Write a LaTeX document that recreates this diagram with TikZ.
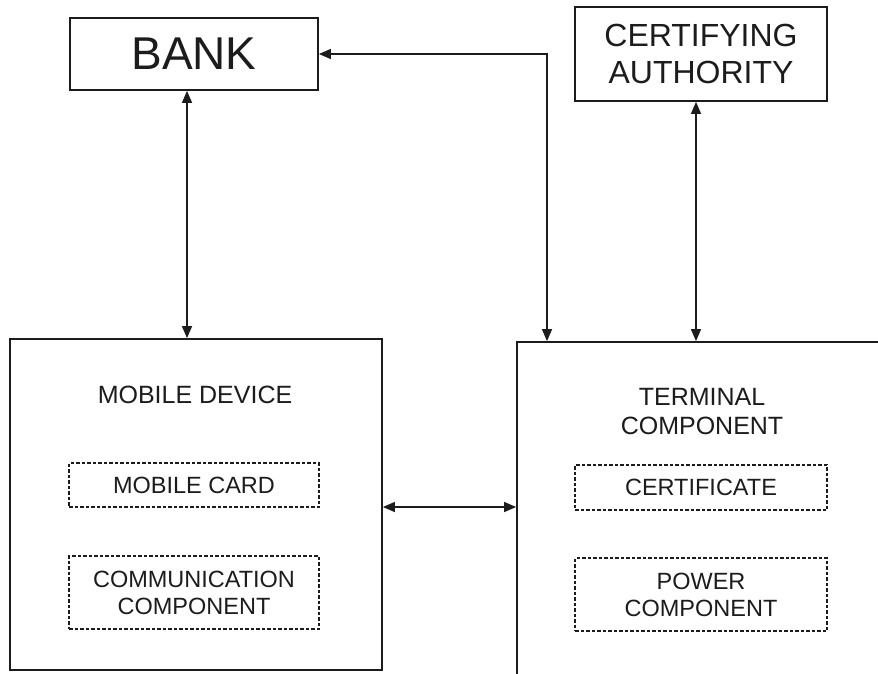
\documentclass[tikz,border=0pt]{standalone}
\usepackage{fontspec}
\setmainfont{Liberation Sans}
\usetikzlibrary{arrows.meta}
\definecolor{ink}{HTML}{1C1C1C}
\tikzset{
  box/.style={draw=ink, line width=1.8pt, rectangle, inner sep=0pt, text=ink},
  subbox/.style={draw=ink, line width=1.1pt, dash pattern=on 3.5pt off 2pt,
    rectangle, inner sep=0pt, align=center, text=ink,
    font=\fontsize{23.5}{27}\selectfont},
  lbl/.style={align=center, text=ink, inner sep=0pt, font=\fontsize{25}{29}\selectfont},
  dbl/.style={draw=ink, line width=1.4pt,
    {Triangle[length=12pt,width=10pt]}-{Triangle[length=12pt,width=10pt]}}
}
\begin{document}
\begin{tikzpicture}[x=1pt,y=-1pt]
  \clip (0,0) rectangle (878,673);
  \fill[white] (0,0) rectangle (878,673);

  % top row
  \node[box, minimum width=248pt, minimum height=72pt,
        font=\fontsize{46}{50}\selectfont] (bank) at (194,54) {BANK};
  \node[box, minimum width=252pt, minimum height=94pt, align=center,
        font=\fontsize{32}{37}\selectfont] (ca) at (701,54) {CERTIFYING\\AUTHORITY};

  % lower row
  \node[box, minimum width=372pt, minimum height=331pt] (mobile) at (196,504.5) {};
  \node[box, minimum width=383pt, minimum height=358pt] (term) at (708.5,521) {};

  \node[lbl] (mdlabel) at (195,395) {MOBILE DEVICE};
  \node[subbox, minimum width=250pt, minimum height=44pt] (card) at (194,485) {MOBILE CARD};
  \node[subbox, minimum width=250pt, minimum height=73pt] (comm) at (194,592.5) {COMMUNICATION\\COMPONENT};

  \node[lbl] (tclabel) at (702,412) {TERMINAL\\COMPONENT};
  \node[subbox, minimum width=252pt, minimum height=45pt] (cert) at (701,487.5) {CERTIFICATE};
  \node[subbox, minimum width=252pt, minimum height=73pt] (power) at (701,594.5) {POWER\\COMPONENT};

  % connector guides
  \coordinate (gx1) at (187,0);
  \coordinate (gx2) at (547,0);
  \coordinate (gx3) at (696,0);
  \coordinate (gy1) at (0,507);

  % connectors
  \draw[dbl] (bank.south -| gx1) -- (mobile.north -| gx1);
  \draw[dbl] (bank.east) -| (term.north -| gx2);
  \draw[dbl] (ca.south -| gx3) -- (term.north -| gx3);
  \draw[dbl] (mobile.east |- gy1) -- (term.west |- gy1);
\end{tikzpicture}
\end{document}
